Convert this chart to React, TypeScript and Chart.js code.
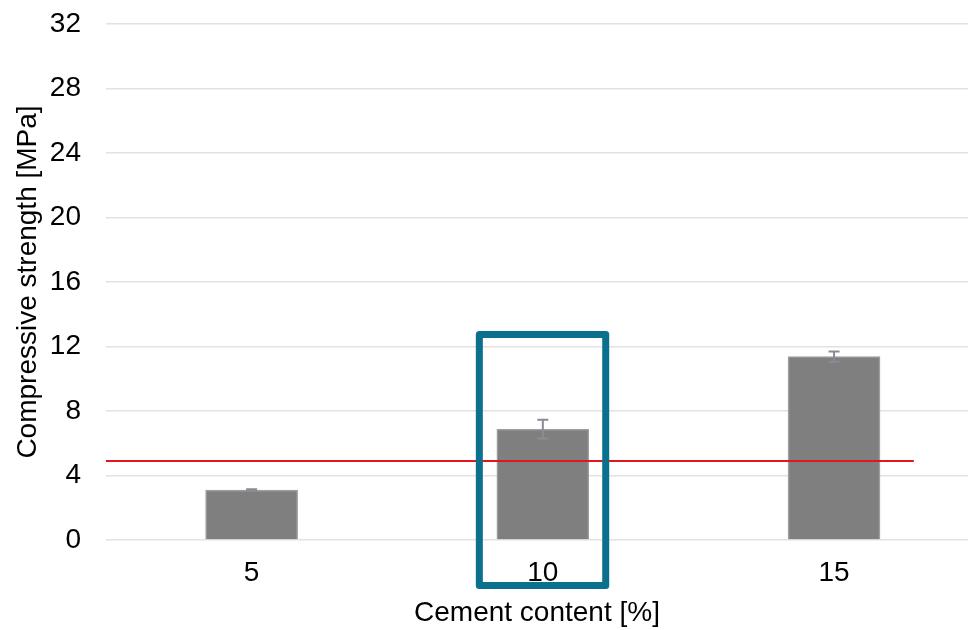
import React, { useEffect, useRef } from "react";
import { Chart, registerables } from "chart.js";

Chart.register(...registerables);

// ---- data ----
const cementContent = [5, 10, 15];
const strengthMean = [3.1, 6.87, 11.37];
const strengthError = [0.04, 0.58, 0.32];
const xTickValues = [5, 10, 15];
const yTickValues = [0, 4, 8, 12, 16, 20, 24, 28, 32];
const limitStrength = 4.9;
const limitRange = [2.5, 16.37];
const highlightX = [8.91, 11.08];
const highlightY = [-2.82, 12.74];
const xRange = [2.5, 17.3];
const yRange = [0, 32];

const FONT = "'Liberation Sans', Arial, sans-serif";

const errorBarPlugin = {
  id: "errorBars",
  afterDatasetsDraw(chart: any) {
    const { ctx, scales } = chart;
    const xs = scales.x;
    const ys = scales.y;
    ctx.save();
    ctx.strokeStyle = "#8b8b95";
    ctx.lineWidth = 2;
    cementContent.forEach((c, i) => {
      const x = xs.getPixelForValue(c);
      const yT = ys.getPixelForValue(strengthMean[i] + strengthError[i]);
      const yB = ys.getPixelForValue(strengthMean[i] - strengthError[i]);
      ctx.beginPath();
      ctx.moveTo(x, yT);
      ctx.lineTo(x, yB);
      ctx.moveTo(x - 5.5, yT);
      ctx.lineTo(x + 5.5, yT);
      ctx.moveTo(x - 5.5, yB);
      ctx.lineTo(x + 5.5, yB);
      ctx.stroke();
    });
    ctx.restore();
  },
};

const highlightPlugin = {
  id: "highlightBox",
  afterDraw(chart: any) {
    const { ctx, scales } = chart;
    const x1 = scales.x.getPixelForValue(highlightX[0]);
    const x2 = scales.x.getPixelForValue(highlightX[1]);
    const y1 = scales.y.getPixelForValue(highlightY[1]);
    const y2 = scales.y.getPixelForValue(highlightY[0]);
    ctx.save();
    ctx.strokeStyle = "#0b6f8e";
    ctx.lineWidth = 7;
    ctx.lineJoin = "round";
    ctx.strokeRect(x1, y1, x2 - x1, y2 - y1);
    ctx.restore();
  },
};

export default function App() {
  const ref = useRef<HTMLCanvasElement | null>(null);

  useEffect(() => {
    if (!ref.current) return;
    const chart = new Chart(ref.current, {
      type: "bar",
      data: {
        datasets: [
          {
            type: "line",
            label: "Limit",
            data: limitRange.map((x) => ({ x, y: limitStrength })),
            borderColor: "#e3161c",
            borderWidth: 2,
            pointRadius: 0,
            order: 0,
          } as any,
          {
            type: "bar",
            label: "Compressive strength",
            data: cementContent.map((c, i) => ({ x: c, y: strengthMean[i] })),
            backgroundColor: "#7f7f7f",
            borderColor: "#9d9da5",
            borderWidth: 1.5,
            barThickness: 92,
            order: 1,
          } as any,
        ],
      },
      options: {
        responsive: false,
        animation: false,
        layout: { padding: { top: 24, right: 0, left: 0, bottom: 0 } },
        plugins: {
          legend: { display: false },
          tooltip: { enabled: false },
        },
        scales: {
          x: {
            type: "linear",
            min: xRange[0],
            max: xRange[1],
            offset: false,
            afterBuildTicks: (scale: any) => {
              scale.ticks = xTickValues.map((v) => ({ value: v }));
            },
            afterFit: (scale: any) => {
              scale.height = 90;
              scale.paddingLeft = 0;
              scale.paddingRight = 0;
            },
            grid: { display: false, drawTicks: false },
            border: { display: false },
            ticks: {
              padding: 16,
              color: "#000",
              font: { family: FONT, size: 28 },
              callback: (v: any) => String(v),
            },
            title: {
              display: true,
              text: "Cement content [%]",
              color: "#000",
              font: { family: FONT, size: 28 },
              padding: { top: 0, bottom: 0 },
            },
          },
          y: {
            type: "linear",
            min: yRange[0],
            max: yRange[1],
            afterBuildTicks: (scale: any) => {
              scale.ticks = yTickValues.map((v) => ({ value: v }));
            },
            afterFit: (scale: any) => {
              scale.width = 106;
              scale.paddingTop = 0;
              scale.paddingBottom = 0;
            },
            grid: { color: "#e2e2e2", lineWidth: 1.5, drawTicks: false },
            border: { display: false },
            ticks: {
              padding: 25,
              color: "#000",
              font: { family: FONT, size: 28 },
            },
            title: {
              display: true,
              text: "Compressive strength [MPa]",
              color: "#000",
              font: { family: FONT, size: 28 },
              padding: { top: 11, bottom: 0 },
            },
          },
        },
      },
      plugins: [errorBarPlugin, highlightPlugin],
    } as any);
    return () => chart.destroy();
  }, []);

  return (
    <div style={{ position: "fixed", left: 0, top: 0, width: 968, height: 630, background: "#fff" }}>
      <canvas ref={ref} width={968} height={630} style={{ width: 968, height: 630, display: "block" }} />
    </div>
  );
}
